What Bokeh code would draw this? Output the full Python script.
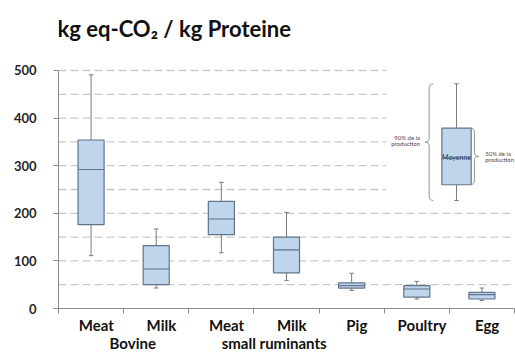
from bokeh.plotting import figure
from bokeh.models import Range1d, LinearAxis, FixedTicker, Label
from bokeh.embed import file_html
from bokeh.resources import INLINE
from bokeh.core.properties import value

# ---------------- data ----------------
categories = ["Meat", "Milk", "Meat", "Milk", "Pig", "Poultry", "Egg"]
groups = ["Bovine", "small ruminants"]
group_members = [[0, 1], [2, 3]]
whisker_low = [111, 43, 117, 59, 38, 20, 17]
q1 = [176, 50, 155, 75, 43, 24, 20]
median = [292, 83, 188, 123, 48, 41, 29]
q3 = [354, 132, 225, 150, 54, 48, 34]
whisker_high = [491, 167, 265, 202, 74, 57, 43]

# illustrative legend box (low, q1, median, q3, high)
legend_stats = [227, 260, 316, 379, 472]
legend_mid_label = "Moyenne"
legend_outer_label = "90% de la\nproduction"
legend_inner_label = "50% de la\nproduction"

y_ticks = [0, 100, 200, 300, 400, 500]
grid_levels = [50, 100, 150, 200, 250, 300, 350, 400, 450, 500]
title_text = "kg eq-CO\u2082 / kg Proteine"

# ---------------- style ----------------
FONT = "Lato"
BOX_FILL = "#bfd5ec"
BOX_LINE = "#60758c"
WHISK = "#7a7a7a"
AXIS = "#8c8c8c"
GRID = "#c9c9c9"

n = len(categories)
y_max = 500
# frame extends above the axis to hold the title; axis itself is bounded to 0..500
p = figure(width=515, height=354, x_range=Range1d(0, n), y_range=Range1d(0, 626),
           output_backend="svg", toolbar_location=None,
           min_border_left=58, min_border_right=1, min_border_top=10, min_border_bottom=46)
p.outline_line_color = None
p.xgrid.visible = False
p.ygrid.visible = False
p.title.visible = False
p.title.standoff = 0

# title (screen units are relative to the plot frame's bottom-left corner)
title_label = Label(x=-1, y=280, x_units="screen", y_units="screen", text=title_text,
                    text_font=FONT, text_font_style="bold", text_font_size="22px",
                    text_color="#111111", text_baseline="middle", text_align="left")
p.add_layout(title_label)

# grid lines (upper ones interrupted where the legend sits)
legend_x = 6.11
grid_x1 = [n if g <= 200 else 5.03 for g in grid_levels]
p.segment(x0=[0] * len(grid_levels), x1=grid_x1, y0=grid_levels, y1=grid_levels,
          line_color=GRID, line_width=1.3, line_dash="8 4")

centers = [i + 0.5 for i in range(n)]
bw = 0.4
cap = 0.035
# whiskers
p.segment(x0=centers, x1=centers, y0=q3, y1=whisker_high, line_color=WHISK, line_width=1)
p.segment(x0=centers, x1=centers, y0=whisker_low, y1=q1, line_color=WHISK, line_width=1)
p.segment(x0=[c - cap for c in centers], x1=[c + cap for c in centers],
          y0=whisker_high, y1=whisker_high, line_color=WHISK, line_width=1)
p.segment(x0=[c - cap for c in centers], x1=[c + cap for c in centers],
          y0=whisker_low, y1=whisker_low, line_color=WHISK, line_width=1)
# boxes
p.vbar(x=centers, width=bw, bottom=q1, top=q3, fill_color=BOX_FILL,
       line_color=BOX_LINE, line_width=1.2)
p.segment(x0=[c - bw / 2 for c in centers], x1=[c + bw / 2 for c in centers],
          y0=median, y1=median, line_color=BOX_LINE, line_width=1.2)

# ---------------- legend box ----------------
lo, lq1, lmed, lq3, lhi = legend_stats
lw = 0.45
p.segment(x0=[legend_x, legend_x], x1=[legend_x, legend_x], y0=[lq3, lo], y1=[lhi, lq1],
          line_color=WHISK, line_width=1)
p.segment(x0=[legend_x - cap] * 2, x1=[legend_x + cap] * 2, y0=[lhi, lo], y1=[lhi, lo],
          line_color=WHISK, line_width=1)
p.vbar(x=[legend_x], width=lw, bottom=[lq1], top=[lq3], fill_color=BOX_FILL,
       line_color=BOX_LINE, line_width=1.2)
p.segment(x0=[legend_x - lw / 2], x1=[legend_x + lw / 2], y0=[lmed], y1=[lmed],
          line_color=BOX_LINE, line_width=1.2)
p.text(x=[legend_x], y=[lmed + 2], text=[legend_mid_label], text_font=value(FONT),
       text_font_size="7px", text_color="#2a3f66", text_align="center", text_baseline="middle")


def draw_brace(x, y0, y1, d, w=0.065, r=9.0):
    mid = (y0 + y1) / 2
    p.quadratic(x0=[x - d * w, x, x + d * w, x],
                y0=[y1, mid + r, mid, y0 + r],
                x1=[x, x + d * w, x, x - d * w],
                y1=[y1 - r, mid, mid - r, y0],
                cx=[x, x, x, x],
                cy=[y1, mid, mid, y0],
                line_color="#8a8a8a", line_width=0.9)
    p.segment(x0=[x, x], x1=[x, x], y0=[y1 - r, y0 + r], y1=[mid + r, mid - r],
              line_color="#8a8a8a", line_width=0.9)


draw_brace(5.69, lo, lhi, -1)
draw_brace(6.385, lq1, lq3, 1)
p.text(x=[5.55], y=[(lo + lhi) / 2 + 3], text=[legend_outer_label], text_font=value(FONT),
       text_font_size="6px", text_color="#5b3b3b", text_align="right", text_baseline="middle",
       text_line_height=0.9)
p.text(x=[6.55], y=[(lq1 + lq3) / 2], text=[legend_inner_label], text_font=value(FONT),
       text_font_size="6px", text_color="#5b3b3b", text_align="left", text_baseline="middle",
       text_line_height=0.9)

# ---------------- axes ----------------
yax = p.yaxis[0]
yax.ticker = FixedTicker(ticks=y_ticks)
yax.bounds = (0, y_max)
yax.minor_tick_line_color = None
yax.major_tick_out = 5
yax.major_tick_in = 0
yax.major_tick_line_color = AXIS
yax.axis_line_color = AXIS
yax.major_label_text_font = FONT
yax.major_label_text_font_style = "bold"
yax.major_label_text_font_size = "13px"
yax.major_label_text_color = "#262626"
yax.major_label_standoff = 17

xax = p.xaxis[0]
xax.ticker = FixedTicker(ticks=list(range(n + 1)))
xax.major_label_overrides = {i: "" for i in range(n + 1)}
xax.major_label_text_font_size = "1px"
xax.major_label_standoff = 0
xax.minor_tick_line_color = None
xax.major_tick_out = 5
xax.major_tick_in = 0
xax.major_tick_line_color = AXIS
xax.axis_line_color = AXIS

label_off = 0.08
lab_ticks = [i + 0.5 + label_off for i in range(n)]
ax2 = LinearAxis(ticker=FixedTicker(ticks=lab_ticks),
                 major_label_overrides={t: c for t, c in zip(lab_ticks, categories)})
ax3_ticks = [sum(m) / len(m) + 0.5 + off for m, off in zip(group_members, [0.14, 0.31])]
ax3 = LinearAxis(ticker=FixedTicker(ticks=ax3_ticks),
                 major_label_overrides={t: g for t, g in zip(ax3_ticks, groups)})
for ax, so in ((ax2, 2), (ax3, -3)):
    ax.axis_line_color = None
    ax.major_tick_line_color = None
    ax.minor_tick_line_color = None
    ax.major_tick_out = 0
    ax.major_tick_in = 0
    ax.major_label_standoff = so
    ax.major_label_text_font = FONT
    ax.major_label_text_font_style = "bold"
    ax.major_label_text_font_size = "15px"
    ax.major_label_text_color = "#111111"
    p.add_layout(ax, "below")

open("out.html", "w").write(file_html(p, INLINE))
